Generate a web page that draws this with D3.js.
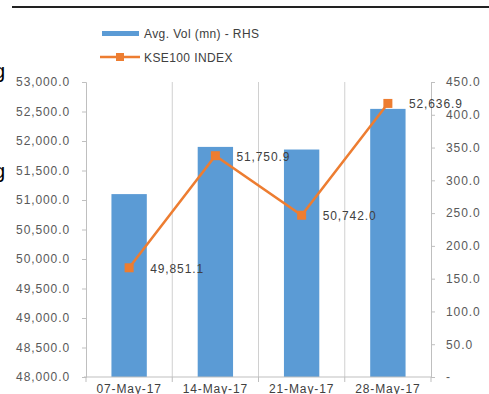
<!DOCTYPE html>
<html>
<head>
<meta charset="utf-8">
<script src="https://cdn.jsdelivr.net/npm/d3@7"></script>
<style>
  body { margin: 0; background: #fff; }
  svg text { font-family: "Liberation Sans", Arial, sans-serif; }
</style>
</head>
<body>
<script>
// weekly data
const weeks = ["07-May-17", "14-May-17", "21-May-17", "28-May-17"];
const kse100 = [49851.1, 51750.9, 50742.0, 52636.9];
const avgVol = [279, 351, 347, 409];          // mn shares, right axis
const leftTicks = [48000, 48500, 49000, 49500, 50000, 50500, 51000, 51500, 52000, 52500, 53000];
const rightTicks = [0, 50, 100, 150, 200, 250, 300, 350, 400, 450];

const width = 489, height = 394;
const margin = {top: 82, right: 58, bottom: 17, left: 86};

const svg = d3.select("body").append("svg")
    .attr("width", width)
    .attr("height", height);

// page bits from the report around the chart
svg.append("line")
    .attr("x1", 12).attr("x2", width)
    .attr("y1", 7).attr("y2", 7)
    .attr("stroke", "#222").attr("stroke-width", 2);
svg.append("text").attr("x", -6).attr("y", 78).attr("font-size", 20).attr("fill", "#000").text("g");
svg.append("text").attr("x", -6).attr("y", 178).attr("font-size", 20).attr("fill", "#000").text("g");

let xScale = d3.scaleBand()
    .domain(weeks)
    .range([margin.left, width - margin.right]);

let yLeft = d3.scaleLinear()
    .domain([48000, 53000])
    .range([height - margin.bottom, margin.top]);

let yRight = d3.scaleLinear()
    .domain([0, 450])
    .range([height - margin.bottom, margin.top]);

const tickText = {"font-size": "12px", "letter-spacing": "0.9px", "fill": "#595959"};
function styleText(sel, st) {
    for (const k in st) sel.style(k, st[k]);
}

// vertical grid between categories
svg.append("g").selectAll("line")
    .data(weeks.slice(1))
    .join("line")
    .attr("x1", d => xScale(d)).attr("x2", d => xScale(d))
    .attr("y1", margin.top).attr("y2", height - margin.bottom)
    .attr("stroke", "#d0d0d0");

// left axis
let leftAxis = d3.axisLeft(yLeft)
    .tickValues(leftTicks)
    .tickSize(4)
    .tickPadding(12)
    .tickFormat(d3.format(",.1f"));
let gl = svg.append("g")
    .attr("transform", "translate(" + margin.left + ",0)")
    .call(leftAxis);
gl.select(".domain").attr("stroke", "#bfbfbf");
gl.selectAll(".tick line").attr("stroke", "#bfbfbf");
styleText(gl.selectAll("text"), tickText);
gl.selectAll("text").attr("font-family", null);

// right axis
let rightAxis = d3.axisRight(yRight)
    .tickValues(rightTicks)
    .tickSize(4)
    .tickPadding(11)
    .tickFormat(d => d == 0 ? "-" : d3.format(".1f")(d));
let gr = svg.append("g")
    .attr("transform", "translate(" + (width - margin.right) + ",0)")
    .call(rightAxis);
gr.select(".domain").attr("stroke", "#bfbfbf");
gr.selectAll(".tick line").attr("stroke", "#bfbfbf");
styleText(gr.selectAll("text"), tickText);
gr.selectAll("text").attr("font-family", null);

// bars (right axis)
const barW = xScale.bandwidth() * 0.41;
svg.append("g").selectAll("rect")
    .data(weeks)
    .join("rect")
    .attr("x", d => xScale(d) + (xScale.bandwidth() - barW) / 2)
    .attr("width", barW)
    .attr("y", (d, i) => yRight(avgVol[i]))
    .attr("height", (d, i) => yRight(0) - yRight(avgVol[i]))
    .attr("fill", "#5b9bd5");

// bottom axis, ticks at category boundaries
let yb = height - margin.bottom;
svg.append("line")
    .attr("x1", margin.left - 2).attr("x2", width - margin.right)
    .attr("y1", yb).attr("y2", yb)
    .attr("stroke", "#bfbfbf");
let bounds = weeks.map(d => xScale(d)).concat([width - margin.right]);
svg.append("g").selectAll("line")
    .data(bounds)
    .join("line")
    .attr("x1", d => d).attr("x2", d => d)
    .attr("y1", yb).attr("y2", yb + 5)
    .attr("stroke", "#bfbfbf");
let xl = svg.append("g").selectAll("text")
    .data(weeks)
    .join("text")
    .attr("x", d => xScale(d) + xScale.bandwidth() / 2)
    .attr("y", yb + 16)
    .attr("text-anchor", "middle")
    .text(d => d);
styleText(xl, Object.assign({}, tickText, {"fill": "#404040"}));

// KSE100 line (left axis)
let cx = d => xScale(d) + xScale.bandwidth() / 2;
let line = d3.line()
    .x((d, i) => cx(weeks[i]))
    .y(d => yLeft(d));
svg.append("path")
    .datum(kse100)
    .attr("d", line)
    .attr("fill", "none")
    .attr("stroke", "#ed7d31")
    .attr("stroke-width", 2.5);
svg.append("g").selectAll("rect")
    .data(kse100)
    .join("rect")
    .attr("x", (d, i) => cx(weeks[i]) - 4.5)
    .attr("y", d => yLeft(d) - 4.5)
    .attr("width", 9).attr("height", 9)
    .attr("fill", "#ed7d31");

// data labels
let dl = svg.append("g").selectAll("text")
    .data(kse100)
    .join("text")
    .attr("x", (d, i) => cx(weeks[i]) + 21)
    .attr("y", d => yLeft(d) + 5)
    .text(d => d3.format(",.1f")(d));
styleText(dl, Object.assign({}, tickText, {"fill": "#404040"}));

// legend
let lg = svg.append("g");
lg.append("rect")
    .attr("x", 102).attr("y", 31)
    .attr("width", 37).attr("height", 5)
    .attr("fill", "#5b9bd5");
lg.append("line")
    .attr("x1", 100).attr("x2", 140)
    .attr("y1", 57).attr("y2", 57)
    .attr("stroke", "#ed7d31").attr("stroke-width", 2.5);
lg.append("rect")
    .attr("x", 116).attr("y", 53)
    .attr("width", 8).attr("height", 8)
    .attr("fill", "#ed7d31");
let lt = lg.selectAll("text")
    .data(["Avg. Vol (mn) - RHS", "KSE100 INDEX"])
    .join("text")
    .attr("x", 144)
    .attr("y", (d, i) => 38 + i * 24)
    .text(d => d);
styleText(lt, Object.assign({}, tickText, {"letter-spacing": "0.4px", "fill": "#404040"}));
</script>
</body>
</html>
